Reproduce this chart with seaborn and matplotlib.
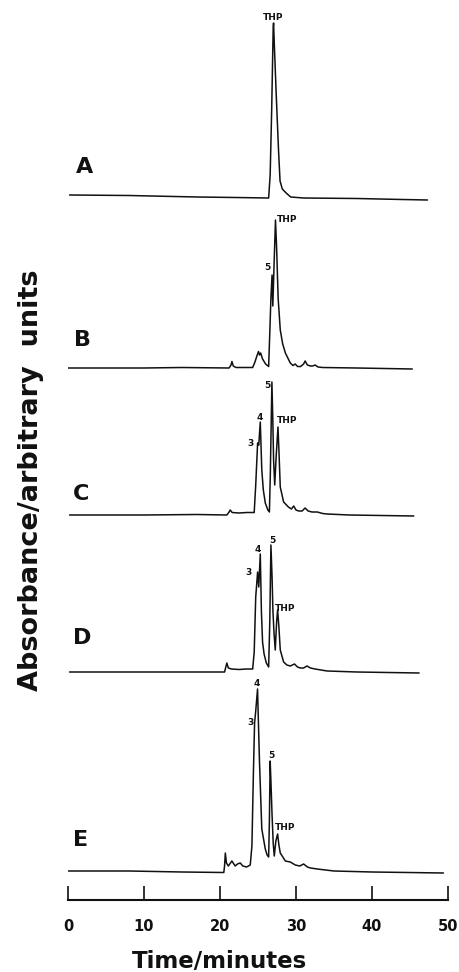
import matplotlib
matplotlib.use("Agg")
import matplotlib.pyplot as plt
import seaborn as sns
import pandas as pd

# HPLC traces: time (min) and absorbance (arbitrary units)
time_a = [0.2, 8, 17, 22, 26.4, 26.6, 26.8, 27.0, 27.05, 27.15, 27.4, 27.7, 27.9, 28.2,
          28.7, 29.3, 31, 38, 44, 47.3]
abs_a = [0, -0.5, -2, -2.5, -3, 20, 85, 168, 172, 150, 100, 45, 14, 6,
         2, -2, -3, -3.5, -4.5, -5]

time_b = [0.0, 10, 15, 21.2, 21.45, 21.57, 21.75, 22.1, 24.3, 24.6, 24.85, 25.07, 25.2,
          25.35, 25.6, 26.0, 26.4, 26.55, 26.7, 26.85, 26.95, 27.1, 27.3, 27.45, 27.65,
          27.93, 28.25, 28.6, 29.25, 29.6, 29.9, 30.2, 30.6, 31.0, 31.2, 31.5, 31.9, 32.2,
          32.5, 32.9, 33.5, 38, 45.3]
abs_b = [0, 0, 0.5, 0, 3, 6.5, 2, 0.5, 0.5, 6, 12, 16.5, 13,
         15, 9, 4, 1.5, 35, 70, 93, 62, 100, 148, 120, 70,
         38, 24, 15, 5, 2.5, 4, 1.5, 1.5, 4, 7, 3, 2, 2,
         3, 1, 0.5, 0, -1]

time_c = [0.2, 10, 17, 20.9, 21.2, 21.34, 21.6, 22.5, 23.5, 24.5, 24.7, 24.95, 25.1, 25.3,
          25.5, 25.7, 25.96, 26.3, 26.5, 26.62, 26.83, 26.95, 27.05, 27.2, 27.4, 27.63,
          27.75, 27.93, 28.37, 29.0, 29.4, 29.7, 30.0, 30.35, 30.8, 31.2, 31.6, 32.1, 32.8,
          33.5, 34.1, 37, 45.5]
abs_c = [0, 0, 0.5, 0, 3, 5, 2.5, 2, 2.5, 2.5, 30, 72, 70, 93,
         45, 25, 12, 5, 3, 40, 133, 95, 55, 30, 60, 88,
         65, 28, 13, 8, 6, 9, 5, 4, 4, 7, 4, 3, 3,
         1.5, 1, 0, -1]

time_d = [0.2, 10, 17, 20.6, 20.8, 20.9, 21.1, 21.5, 22.5, 23.5, 24.3, 24.5, 24.7, 24.95,
          25.1, 25.3, 25.45, 25.6, 25.8, 26.1, 26.4, 26.55, 26.7, 26.85, 26.96, 27.1, 27.27,
          27.45, 27.58, 27.75, 27.93, 28.37, 28.8, 29.25, 29.8, 30.2, 30.57, 31.0, 31.45,
          31.9, 32.5, 33.3, 34.1, 38, 46.2]
abs_d = [0, 0, 0, 0, 6, 9, 4, 3, 2.5, 3, 3, 20, 75, 100,
         85, 118, 60, 30, 18, 9, 5, 50, 127, 95, 62, 40, 22,
         50, 62, 45, 22, 10, 7, 6, 8, 5, 4, 4, 6,
         4, 3, 2, 1, 0, -1]

time_e = [0.0, 8, 15, 20.5, 20.6, 20.7, 20.85, 21.1, 21.56, 22.0, 22.3, 22.66, 23.0, 23.5,
          23.98, 24.2, 24.4, 24.55, 24.7, 24.94, 25.05, 25.2, 25.5, 25.96, 26.2, 26.4, 26.5,
          26.6, 26.7, 26.84, 27.0, 27.14, 27.35, 27.58, 27.75, 27.93, 28.6, 29.25, 29.9,
          30.5, 31.0, 31.5, 31.9, 32.8, 35, 40, 49.4]
abs_e = [0, 0, -1, -1.5, 5, 18, 8, 5, 10, 5, 7, 8, 5, 4,
         6, 25, 100, 148, 160, 182, 150, 108, 42, 22, 16, 14, 50,
         110, 90, 58, 28, 15, 30, 37, 26, 18, 10, 9, 6,
         5, 7, 4, 3, 2, 0, -1, -2]

panel_names = ["A", "B", "C", "D", "E"]
peak_names = [["THP"], ["5", "THP"], ["3", "4", "5", "THP"],
              ["3", "4", "5", "THP"], ["3", "4", "5", "THP"]]

time_ticks = [0, 10, 20, 30, 40, 50]

W, H = 460, 972
sns.set_theme(style="white")
plt.rcParams['font.family'] = ['DejaVu Sans']

fig = plt.figure(figsize=(W / 100, H / 100), dpi=100)


def px_axes(top, bottom):
    # axes box given in picture pixels, x from t=0 (68 px) to t=50 (448 px)
    return fig.add_axes([68 / W, 1 - bottom / H, 380 / W, (bottom - top) / H])


traces = [(time_a, abs_a), (time_b, abs_b), (time_c, abs_c), (time_d, abs_d), (time_e, abs_e)]
# baseline, top, bottom of each trace in pixels
boxes = [(195, 5, 215), (368, 200, 390), (515, 370, 540), (672, 520, 690), (871, 670, 885)]
# panel letter centre (pixels)
letter_pos = [(85, 167), (83, 340), (81, 494), (82, 638), (81, 840)]
# peak label positions in (time, height) of each panel
peak_pos = [[(27.0, 178)],
            [(26.2, 100), (28.8, 149)],
            [(24.0, 72), (25.2, 98), (26.2, 130), (28.85, 95)],
            [(23.75, 100), (25.0, 123), (26.9, 132), (28.6, 64)],
            [(24.05, 149), (24.9, 188), (26.75, 116), (28.6, 44)]]

for i, (t, a) in enumerate(traces):
    base, top, bottom = boxes[i]
    ax = px_axes(top, bottom)
    df = pd.DataFrame({"time": t, "absorbance": a})
    sns.lineplot(data=df, x="time", y="absorbance", ax=ax, color="#111111", lw=1.1)
    ax.set_xlim(0, 50)
    ax.set_ylim(base - bottom, base - top)
    ax.axis("off")
    for name, (pt, ph) in zip(peak_names[i], peak_pos[i]):
        ax.text(pt, ph, name, ha="center", va="center", fontsize=6.5,
                fontweight="bold", color="#111111")
    lx, ly = letter_pos[i]
    fig.text(lx / W, 1 - ly / H, panel_names[i], ha="center", va="center",
             fontsize=16, fontweight="bold", color="#111111")

# time axis
ax_t = px_axes(880, 900)
ax_t.set_facecolor("none")
ax_t.set_xlim(0, 50)
ax_t.set_ylim(0, 1)
ax_t.set_xticks(time_ticks)
ax_t.set_xticklabels([str(v) for v in time_ticks], fontsize=10.5, fontweight="bold")
ax_t.set_yticks([])
for s in ["left", "top", "right"]:
    ax_t.spines[s].set_visible(False)
ax_t.spines["bottom"].set_linewidth(1.5)
ax_t.spines["bottom"].set_color("#111111")
ax_t.tick_params(axis="x", direction="in", length=10, width=1.2, pad=14,
                 colors="#111111", bottom=True)

fig.text(220 / W, 1 - 961 / H, "Time/minutes", ha="center", va="center",
         fontsize=16.5, fontweight="bold", color="#111111")
fig.text(31 / W, 1 - 480 / H, "Absorbance/arbitrary  units", rotation=90,
         ha="center", va="center", fontsize=19.5, fontweight="bold", color="#111111")

fig.savefig("out.png", dpi=100)
